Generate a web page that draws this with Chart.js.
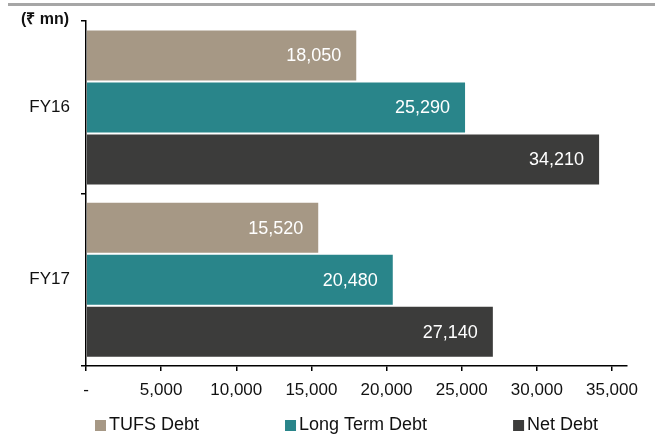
<!DOCTYPE html>
<html>
<head>
<meta charset="utf-8">
<script src="https://cdn.jsdelivr.net/npm/chart.js@4/dist/chart.umd.min.js"></script>
<style>
  html, body { margin: 0; padding: 0; background: #fff; }
  #wrap { width: 655px; height: 435px; position: relative; }
</style>
</head>
<body>
<div id="wrap"><canvas id="debtChart" width="655" height="435"></canvas></div>
<script>
const years = ["FY16", "FY17"];
const seriesNames = ["TUFS Debt", "Long Term Debt", "Net Debt"];
const tufsDebt = [18050, 15520];
const longTermDebt = [25290, 20480];
const netDebt = [34210, 27140];
const seriesColors = ["#a69885", "#29858a", "#3c3c3b"];
const xTickValues = [0, 5000, 10000, 15000, 20000, 25000, 30000, 35000];
const unitLabel = "(₹ mn)";

const fontFamily = "'Liberation Sans', Arial, sans-serif";
const fmt = v => v.toLocaleString("en-US");

// value labels, unit label, top rule and legend
const extras = {
    id: "extras",
    beforeDraw(chart) {
        const ctx = chart.ctx;
        ctx.save();
        ctx.fillStyle = "#a6a6a6";
        ctx.fillRect(8, 3, chart.width - 8, 3);
        ctx.restore();
    },
    afterDatasetsDraw(chart) {
        const ctx = chart.ctx;
        ctx.save();
        ctx.font = "18px " + fontFamily;
        ctx.fillStyle = "#ffffff";
        ctx.textAlign = "right";
        ctx.textBaseline = "middle";
        chart.data.datasets.forEach((ds, i) => {
            chart.getDatasetMeta(i).data.forEach((bar, j) => {
                ctx.fillText(fmt(ds.data[j]), bar.x - 16, bar.y + 1);
            });
        });
        ctx.restore();
    },
    afterDraw(chart) {
        const ctx = chart.ctx;
        ctx.save();
        ctx.fillStyle = "#111";
        ctx.textBaseline = "middle";
        ctx.textAlign = "left";
        ctx.font = "bold 16px " + fontFamily;
        ctx.fillText(unitLabel, 21, 20);

        ctx.font = "18px " + fontFamily;
        let x = 95;
        const y = 425;
        chart.data.datasets.forEach(ds => {
            ctx.fillStyle = ds.backgroundColor;
            ctx.fillRect(x, y - 5, 11, 11);
            ctx.fillStyle = "#111";
            ctx.fillText(ds.label, x + 14, y);
            x += 14 + ctx.measureText(ds.label).width + 86;
        });
        ctx.restore();
    }
};

const datasets = [tufsDebt, longTermDebt, netDebt].map((vals, i) => ({
    label: seriesNames[i],
    data: vals,
    backgroundColor: seriesColors[i],
    borderColor: "rgba(255,255,255,0.25)",
    borderWidth: 1,
    categoryPercentage: 0.905,
    barPercentage: 1
}));

new Chart(document.getElementById("debtChart"), {
    type: "bar",
    data: { labels: years, datasets: datasets },
    options: {
        indexAxis: "y",
        responsive: false,
        animation: false,
        layout: { padding: { top: 15, right: 28, left: 0, bottom: 0 } },
        plugins: {
            legend: { display: false },
            tooltip: { enabled: false }
        },
        scales: {
            x: {
                min: 0,
                max: 36000,
                afterBuildTicks: scale => {
                    scale.ticks = xTickValues.map(v => ({ value: v }));
                },
                afterFit: scale => { scale.height = 69; },
                ticks: {
                    autoSkip: false,
                    maxRotation: 0,
                    color: "#111",
                    padding: 9,
                    font: { family: fontFamily, size: 17 },
                    callback: v => v === 0 ? "-" : fmt(v)
                },
                grid: { drawOnChartArea: false, tickLength: 5, color: "#000", lineWidth: 1.5 },
                border: { display: true, color: "#000", width: 1.5 }
            },
            y: {
                afterFit: scale => { scale.width = 86; },
                ticks: {
                    color: "#111",
                    padding: 11,
                    font: { family: fontFamily, size: 17 }
                },
                grid: { drawOnChartArea: false, offset: true, tickLength: 5, color: "#000", lineWidth: 1.5 },
                border: { display: true, color: "#000", width: 1.5 }
            }
        }
    },
    plugins: [extras]
});
</script>
</body>
</html>
